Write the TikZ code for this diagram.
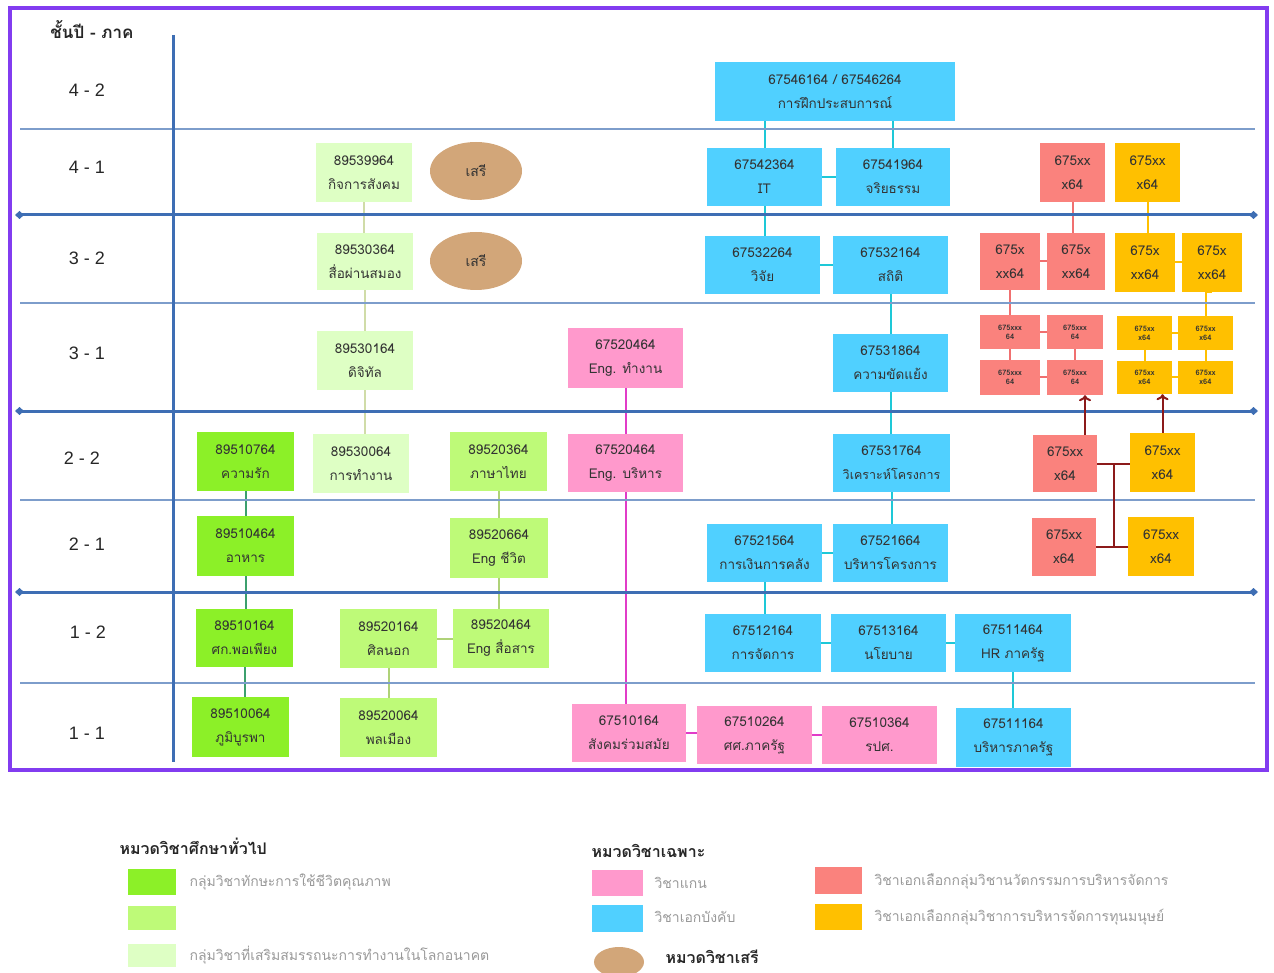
\documentclass[tikz,border=0pt]{standalone}
\usepackage{fontspec}
\setmainfont{Liberation Sans}
\newfontfamily\thai[Script=Thai]{Loma}
\usetikzlibrary{shapes.geometric,arrows.meta,backgrounds,calc}
\definecolor{cyanb}{RGB}{80,208,255}
\definecolor{pinkb}{RGB}{255,153,204}
\definecolor{redb}{RGB}{250,130,125}
\definecolor{orab}{RGB}{255,192,0}
\definecolor{gA}{RGB}{140,240,40}
\definecolor{gB}{RGB}{190,250,120}
\definecolor{gC}{RGB}{222,255,196}
\definecolor{tan}{RGB}{210,166,121}
\definecolor{frame}{RGB}{130,60,240}
\definecolor{axis}{RGB}{62,110,180}
\definecolor{thinl}{RGB}{125,157,203}
\definecolor{cyl}{RGB}{30,200,215}
\definecolor{pkl}{RGB}{225,60,200}
\definecolor{gAl}{RGB}{60,160,110}
\definecolor{gBl}{RGB}{175,210,120}
\definecolor{gCl}{RGB}{208,220,168}
\definecolor{rdl}{RGB}{240,112,112}
\definecolor{drl}{RGB}{140,26,26}
\tikzset{
  bx/.style={draw=none,inner sep=0pt,align=center,text=black!80,font=\thai\fontsize{13.5}{24}\selectfont},
  cy/.style={bx,fill=cyanb},
  pk/.style={bx,fill=pinkb},
  ga/.style={bx,fill=gA},
  gb/.style={bx,fill=gB},
  gc/.style={bx,fill=gC},
  rd/.style={bx,fill=redb},
  ob/.style={bx,fill=orab},
  rds/.style={rd,font=\thai\bfseries\fontsize{7.5}{9}\selectfont},
  obs/.style={ob,font=\thai\bfseries\fontsize{7.5}{9}\selectfont},
  freeel/.style={ellipse,fill=tan,inner sep=0pt,text=black!80,font=\thai\fontsize{14}{16}\selectfont},
  ccy/.style={draw=cyl,line width=2pt},
  cpk/.style={draw=pkl,line width=2pt},
  cga/.style={draw=gAl,line width=2pt},
  cgb/.style={draw=gBl,line width=2pt},
  cgc/.style={draw=gCl,line width=2pt},
  crd/.style={draw=rdl,line width=2pt},
  cor/.style={draw=orab,line width=2pt},
  cdr/.style={draw=drl,line width=2pt},
  thickgrid/.style={draw=axis,line width=3pt,{Diamond[length=9pt,width=8pt]}-{Diamond[length=9pt,width=8pt]}},
  thingrid/.style={draw=thinl,line width=2pt},
  rowlab/.style={font=\fontsize{18}{20}\selectfont,text=black!85},
  legt/.style={anchor=west,text=black!40,font=\thai\fontsize{14}{16}\selectfont},
  legh/.style={anchor=west,text=black!85,font=\thai\bfseries\fontsize{16}{18}\selectfont},
}
\newcommand{\mybox}[7]{\node[#1,minimum width={#5-#3},minimum height={#6-#4}] (#2) at ({(#3+#5)/2},{(#4+#6)/2}) {#7};}
\begin{document}
\begin{tikzpicture}[x=1pt,y=-1pt]
\useasboundingbox (0,0) rectangle (1274,973);
% frame and grid
\draw[frame,line width=4pt] (10,8) rectangle (1267,770);
\foreach \yy in {129,303,500,683} \draw[thingrid] (20,\yy) -- (1255,\yy);
\foreach \yy in {215,411,592} \draw[thickgrid] (15,\yy) -- (1258,\yy);
\draw[axis,line width=3pt] (173,35) -- (173,762);
% row labels
\node[rowlab,font=\thai\bfseries\fontsize{17}{20}\selectfont] (hdr) at (92,30) {ชั้นปี - ภาค};
\node[rowlab] (l42) at (87,90) {4 - 2};
\node[rowlab] (l41) at (87,167) {4 - 1};
\node[rowlab] (l32) at (87,258) {3 - 2};
\node[rowlab] (l31) at (87,353) {3 - 1};
\node[rowlab] (l22) at (82,458) {2 - 2};
\node[rowlab] (l21) at (87,544) {2 - 1};
\node[rowlab] (l12) at (88,632) {1 - 2};
\node[rowlab] (l11) at (87,733) {1 - 1};
% cyan boxes
\mybox{cy}{big}{715}{62}{955}{121}{67546164 / 67546264\\การฝึกประสบการณ์}
\mybox{cy}{it}{707}{148}{822}{206}{67542364\\IT}
\mybox{cy}{eth}{836}{148}{950}{206}{67541964\\จริยธรรม}
\mybox{cy}{rsch}{705}{236}{820}{294}{67532264\\วิจัย}
\mybox{cy}{stat}{833}{236}{948}{294}{67532164\\สถิติ}
\mybox{cy}{conf}{833}{334}{948}{392}{67531864\\ความขัดแย้ง}
\mybox{cy}{anal}{833}{434}{950}{492}{67531764\\{\fontsize{12.5}{24}\selectfont วิเคราะห์โครงการ}}
\mybox{cy}{fin}{707}{524}{822}{582}{67521564\\การเงินการคลัง}
\mybox{cy}{proj}{833}{524}{948}{582}{67521664\\บริหารโครงการ}
\mybox{cy}{mgt}{705}{614}{821}{672}{67512164\\การจัดการ}
\mybox{cy}{pol}{831}{614}{946}{672}{67513164\\นโยบาย}
\mybox{cy}{hr}{955}{614}{1071}{672}{67511464\\HR ภาครัฐ}
\mybox{cy}{pa}{956}{708}{1071}{767}{67511164\\บริหารภาครัฐ}
% pink boxes
\mybox{pk}{engw}{568}{328}{683}{388}{67520464\\Eng. ทำงาน}
\mybox{pk}{engm}{568}{434}{683}{492}{67520464\\Eng. บริหาร}
\mybox{pk}{soc}{572}{704}{686}{762}{67510164\\สังคมร่วมสมัย}
\mybox{pk}{hum}{697}{706}{812}{764}{67510264\\ศศ.ภาครัฐ}
\mybox{pk}{rps}{822}{706}{937}{764}{67510364\\รปศ.}
% green boxes
\mybox{ga}{love}{197}{432}{294}{491}{89510764\\ความรัก}
\mybox{ga}{food}{197}{516}{294}{576}{89510464\\อาหาร}
\mybox{ga}{econ}{196}{609}{293}{667}{89510164\\ศก.พอเพียง}
\mybox{ga}{bur}{192}{697}{289}{757}{89510064\\ภูมิบูรพา}
\mybox{gb}{thl}{450}{432}{547}{491}{89520364\\ภาษาไทย}
\mybox{gb}{englife}{450}{518}{548}{578}{89520664\\Eng ชีวิต}
\mybox{gb}{art}{340}{609}{437}{668}{89520164\\ศิลนอก}
\mybox{gb}{engcom}{453}{609}{549}{668}{89520464\\Eng สื่อสาร}
\mybox{gb}{civ}{340}{698}{437}{757}{89520064\\พลเมือง}
\mybox{gc}{socw}{316}{143}{412}{202}{89539964\\กิจการสังคม}
\mybox{gc}{media}{317}{233}{413}{290}{89530364\\สื่อผ่านสมอง}
\mybox{gc}{dig}{317}{331}{413}{390}{89530164\\ดิจิทัล}
\mybox{gc}{work}{313}{434}{409}{493}{89530064\\การทำงาน}
% free electives
\node[freeel,minimum width=92,minimum height=58] (free1) at (476,171) {เสรี};
\node[freeel,minimum width=92,minimum height=58] (free2) at (476,261) {เสรี};
% red / orange boxes
\mybox{rd}{r41}{1040}{143}{1105}{202}{675xx\\x64}
\mybox{ob}{o41}{1115}{143}{1180}{202}{675xx\\x64}
\mybox{rd}{r32a}{980}{233}{1040}{290}{675x\\xx64}
\mybox{rd}{r32b}{1047}{233}{1105}{290}{675x\\xx64}
\mybox{ob}{o32a}{1115}{233}{1175}{292}{675x\\xx64}
\mybox{ob}{o32b}{1182}{233}{1242}{292}{675x\\xx64}
\mybox{rds}{rs1}{980}{315}{1040}{349}{675xxx\\64}
\mybox{rds}{rs2}{1047}{315}{1103}{349}{675xxx\\64}
\mybox{rds}{rs3}{980}{360}{1040}{395}{675xxx\\64}
\mybox{rds}{rs4}{1047}{360}{1103}{395}{675xxx\\64}
\mybox{obs}{os1}{1117}{316}{1172}{350}{675xx\\x64}
\mybox{obs}{os2}{1178}{316}{1233}{350}{675xx\\x64}
\mybox{obs}{os3}{1117}{361}{1172}{394}{675xx\\x64}
\mybox{obs}{os4}{1178}{361}{1233}{394}{675xx\\x64}
\mybox{rd}{r22}{1033}{435}{1097}{492}{675xx\\x64}
\mybox{ob}{o22}{1130}{433}{1195}{492}{675xx\\x64}
\mybox{rd}{r21}{1032}{518}{1096}{576}{675xx\\x64}
\mybox{ob}{o21}{1128}{517}{1194}{576}{675xx\\x64}
% connectors
\begin{scope}[on background layer]
\draw[ccy] (it.north) -- (it.north |- big.south);
\draw[ccy] (eth.north) -- (eth.north |- big.south);
\draw[ccy] (it.east) -- (it.east -| eth.west);
\draw[ccy] (it.south) -- (it.south |- rsch.north);
\draw[ccy] (rsch.east) -- (rsch.east -| stat.west);
\draw[ccy] (stat.south) -- (stat.south |- conf.north);
\draw[ccy] (conf.south) -- (conf.south |- anal.north);
\draw[ccy] (anal.south) -- (anal.south |- proj.north);
\draw[ccy] (fin.east) -- (fin.east -| proj.west);
\draw[ccy] (fin.south) -- (fin.south |- mgt.north);
\draw[ccy] (mgt.east) -- (mgt.east -| pol.west);
\draw[ccy] (pol.east) -- (pol.east -| hr.west);
\draw[ccy] (hr.south) -- (hr.south |- pa.north);
\draw[cpk] (engw.south) -- (engw.south |- engm.north);
\draw[cpk] (engm.south) -- (engm.south |- soc.north);
\draw[cpk] (soc.east) -- (soc.east -| hum.west);
\draw[cpk] (hum.east) -- (hum.east -| rps.west);
\draw[cga] (love.south) -- (love.south |- food.north);
\draw[cga] (food.south) -- (food.south |- econ.north);
\draw[cga] (econ.south) -- (econ.south |- bur.north);
\draw[cgb] (thl.south) -- (thl.south |- englife.north);
\draw[cgb] (englife.south) -- (englife.south |- engcom.north);
\draw[cgb] (art.east) -- (art.east -| engcom.west);
\draw[cgb] (art.south) -- (art.south |- civ.north);
\draw[cgc] (socw.south) -- (socw.south |- media.north);
\draw[cgc] (media.south) -- (media.south |- dig.north);
\draw[cgc] (dig.south) -- (dig.south |- work.north);
\draw[crd] (r41.south) -- (r41.south |- r32b.north);
\draw[crd] (r32a.east) -- (r32a.east -| r32b.west);
\draw[crd] (r32a.south) -- (r32a.south |- rs1.north);
\draw[crd] (rs1.east) -- (rs1.east -| rs2.west);
\draw[crd] (rs3.east) -- (rs3.east -| rs4.west);
\draw[crd] (rs1.south) -- (rs1.south |- rs3.north);
\draw[crd] (rs2.south) -- (rs2.south |- rs4.north);
\draw[cor] (o41.south) -- (o41.south |- o32a.north);
\draw[cor] (o32a.east) -- (o32a.east -| o32b.west);
\draw[cor] (o32b.south) -- (o32b.south -| os2.north) -- (os2.north);
\draw[cor] (os1.east) -- (os1.east -| os2.west);
\draw[cor] (os3.east) -- (os3.east -| os4.west);
\draw[cor] (os1.south) -- (os1.south |- os3.north);
\draw[cor] (os2.south) -- (os2.south |- os4.north);
\end{scope}
\draw[cdr,-{To[length=6pt,width=12pt]}] ([xshift=20pt]r22.north) -- ([xshift=20pt]r22.north |- rs4.south);
\draw[cdr,-{To[length=6pt,width=12pt]}] (o22.north) -- (o22.north |- os3.south);
\draw[cdr] (r22.east) -- (r22.east -| o22.west);
\draw[cdr] (r21.east) -- (r21.east -| o21.west);
\coordinate (bt) at ($(r22.east)!0.5!(r22.east -| o22.west)$);
\coordinate (bb) at ($(r21.east)!0.5!(r21.east -| o21.west)$);
\draw[cdr] (bt) -- (bt |- bb);
% legend
\node[legh] (lh1) at (116,846) {หมวดวิชาศึกษาทั่วไป};
\fill[gA] (128,869) rectangle (176,895);
\fill[gB] (128,906) rectangle (176,930);
\fill[gC] (128,944) rectangle (176,967);
\node[legt] (lt1) at (186,882) {กลุ่มวิชาทักษะการใช้ชีวิตคุณภาพ};
\node[legt] (lt3) at (186,955) {กลุ่มวิชาที่เสริมสมรรถนะการทำงานในโลกอนาคต};
\node[legh] (lh2) at (588,851) {หมวดวิชาเฉพาะ};
\fill[pinkb] (592,870) rectangle (643,896);
\fill[cyanb] (592,905) rectangle (643,932);
\node[legt] (lp) at (651,883) {วิชาแกน};
\node[legt] (lc) at (651,917) {วิชาเอกบังคับ};
\fill[redb] (815,867) rectangle (862,894);
\fill[orab] (815,904) rectangle (862,930);
\node[legt] (lr) at (871,881) {วิชาเอกเลือกกลุ่มวิชานวัตกรรมการบริหารจัดการ};
\node[legt] (lo) at (871,917) {วิชาเอกเลือกกลุ่มวิชาการบริหารจัดการทุนมนุษย์};
\node[ellipse,fill=tan,minimum width=50,minimum height=30,inner sep=0pt] (lfree) at (619,962) {};
\node[legh] (lf) at (662,957) {หมวดวิชาเสรี};
\end{tikzpicture}
\end{document}
